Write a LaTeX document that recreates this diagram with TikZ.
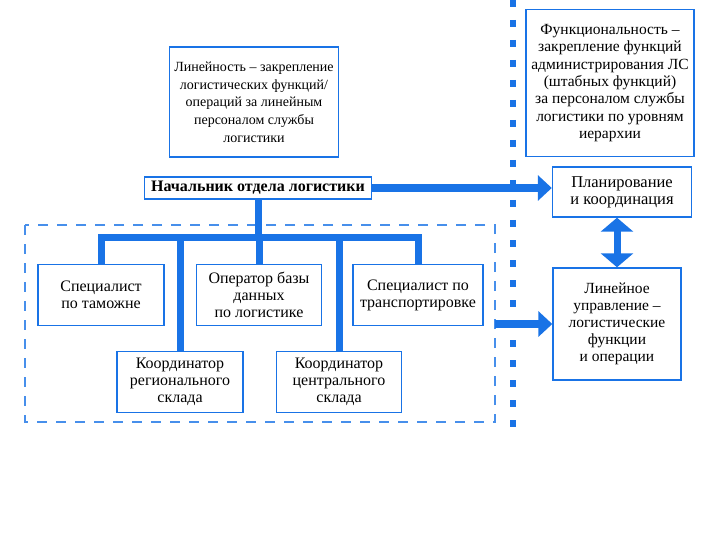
\documentclass[tikz,border=0pt]{standalone}
\usepackage{fontspec}
\setmainfont{Liberation Serif}
\usetikzlibrary{arrows.meta, positioning}
\definecolor{lsblue}{RGB}{25,115,230}

\begin{document}
\begin{tikzpicture}[
    x=1pt, y=-1pt,
    box/.style={draw=lsblue, line width=1.4pt, fill=white, align=center, inner sep=1pt,
                font=\fontsize{16}{17}\selectfont},
    bus/.style={draw=lsblue, line width=7pt, line join=miter},
    bigarr/.style={draw=lsblue, line width=8pt, -{Triangle[width=25pt, length=14pt]}},
    duoarr/.style={draw=lsblue, line width=7pt, {Triangle[width=32pt, length=14pt]}-{Triangle[width=32pt, length=14pt]}}
]
\useasboundingbox (0,0) rectangle (720,540);

% separator and frame
\coordinate (sepTop) at (513,0);
\coordinate (sepBot) at (513,428);
\draw[lsblue, line width=6pt, dash pattern=on 7pt off 13pt] (sepTop) -- (sepBot);
\coordinate (frameNW) at (25,225);
\coordinate (frameSE) at (495,422);
\draw[lsblue!80, line width=1.3pt, dash pattern=on 10pt off 9pt] (frameNW) rectangle (frameSE);

% nodes
\node[box, minimum width=169, minimum height=110, font=\fontsize{14}{17.7}\selectfont] (lin) at (254,102)
    {Линейность -- закрепление\\логистических функций/\\операций за линейным\\персоналом службы\\логистики};
\node[box, minimum width=168, minimum height=147, font=\fontsize{15.5}{17.3}\selectfont] (func) at (610,83)
    {Функциональность --\\закрепление функций\\администрирования ЛС\\(штабных функций)\\за персоналом службы\\логистики по уровням\\иерархии};
\node[box, minimum width=227, minimum height=22, font=\fontsize{16}{16}\selectfont\bfseries] (chief) at (258,188)
    {Начальник отдела логистики};
\node[box, minimum width=139, minimum height=50, font=\fontsize{16.5}{17}\selectfont] (plan) at (622,192)
    {Планирование\\и координация};
\node[box, minimum width=128, minimum height=112, font=\fontsize{15.5}{17}\selectfont] (lineop) at (617,324)
    {Линейное\\управление --\\логистические\\функции\\и операции};

\node[box, minimum width=126, minimum height=61] (spec1) at (101,295) {Специалист\\по таможне};
\node[box, minimum width=125, minimum height=61] (oper) at (259,295) {Оператор базы\\данных\\по логистике};
\node[box, minimum width=130, minimum height=61] (spec2) at (418,295) {Специалист по\\транспортировке};
\node[box, minimum width=126, minimum height=61] (coord1) at (180,382) {Координатор\\регионального\\склада};
\node[box, minimum width=125, minimum height=61] (coord2) at (339,382) {Координатор\\центрального\\склада};

% tree
\coordinate (busL) at (101,237);
\draw[bus] (spec1.north) |- (spec2 |- busL) -- (spec2.north);
\draw[bus] (chief.south) -- (chief |- busL);
\foreach \n in {coord1,oper,coord2}
    \draw[bus] (\n |- busL) -- (\n.north);

% arrows
\draw[bigarr] (chief.east) -- (chief.east -| plan.west);
\draw[bigarr] (frameSE |- lineop.west) -- (lineop.west);
\draw[duoarr] (lineop.north |- plan.south) -- (lineop.north);
\end{tikzpicture}
\end{document}
